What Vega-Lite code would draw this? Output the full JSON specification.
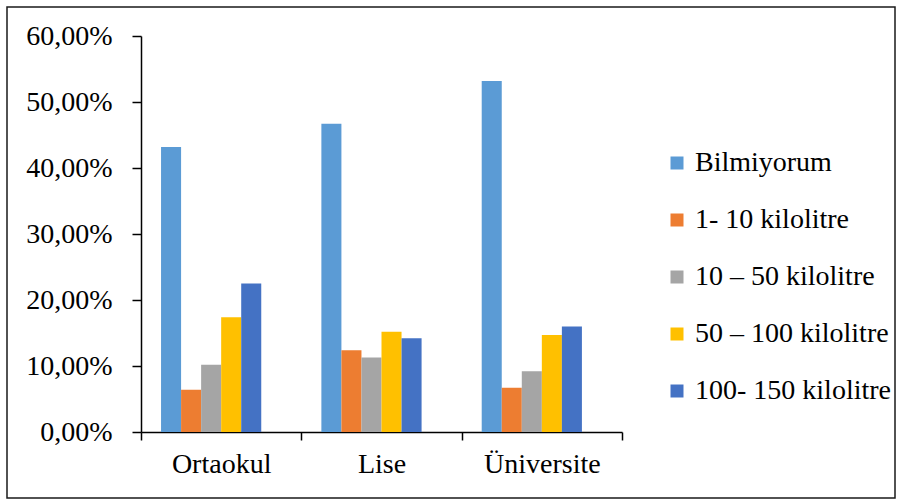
{
  "$schema": "https://vega.github.io/schema/vega-lite/v6.json",
  "width": 888,
  "height": 491,
  "autosize": {"type": "none"},
  "padding": {"left": 7, "top": 7, "right": 3, "bottom": 3},
  "background": "white",
  "config": {
    "view": {"stroke": "#1a1a1a", "strokeWidth": 1.5, "fill": "white"},
    "legend": {"labelFont": "Liberation Serif", "labelFontWeight": "normal"}
  },
  "data": {
    "values": [
      {"level": "Ortaokul", "series": "Bilmiyorum", "value": 0.432},
      {"level": "Ortaokul", "series": "1- 10 kilolitre", "value": 0.064},
      {"level": "Ortaokul", "series": "10 – 50 kilolitre", "value": 0.102},
      {"level": "Ortaokul", "series": "50 – 100 kilolitre", "value": 0.174},
      {"level": "Ortaokul", "series": "100- 150 kilolitre", "value": 0.225},
      {"level": "Lise", "series": "Bilmiyorum", "value": 0.467},
      {"level": "Lise", "series": "1- 10 kilolitre", "value": 0.124},
      {"level": "Lise", "series": "10 – 50 kilolitre", "value": 0.113},
      {"level": "Lise", "series": "50 – 100 kilolitre", "value": 0.152},
      {"level": "Lise", "series": "100- 150 kilolitre", "value": 0.142},
      {"level": "Üniversite", "series": "Bilmiyorum", "value": 0.532},
      {"level": "Üniversite", "series": "1- 10 kilolitre", "value": 0.067},
      {"level": "Üniversite", "series": "10 – 50 kilolitre", "value": 0.092},
      {"level": "Üniversite", "series": "50 – 100 kilolitre", "value": 0.147},
      {"level": "Üniversite", "series": "100- 150 kilolitre", "value": 0.160}
    ]
  },
  "mark": {"type": "bar"},
  "encoding": {
    "x": {
      "field": "level",
      "type": "nominal",
      "sort": ["Ortaokul", "Lise", "Üniversite"],
      "scale": {"range": [134, 615], "paddingInner": 0, "paddingOuter": 0},
      "axis": {
        "title": null,
        "offset": -66,
        "labelAngle": 0,
        "tickBand": "extent",
        "tickSize": 8,
        "tickColor": "#000",
        "tickWidth": 1.5,
        "domainColor": "#000",
        "domainWidth": 1.5,
        "labelFont": "Liberation Serif",
        "labelFontSize": 28,
        "labelColor": "#000",
        "labelPadding": 10
      }
    },
    "xOffset": {
      "field": "series",
      "type": "nominal",
      "scale": {
        "domain": ["Bilmiyorum", "1- 10 kilolitre", "10 – 50 kilolitre", "50 – 100 kilolitre", "100- 150 kilolitre", " "],
        "paddingInner": 0,
        "paddingOuter": 1
      }
    },
    "y": {
      "field": "value",
      "type": "quantitative",
      "scale": {"domain": [0, 0.6], "range": [425, 29], "nice": false},
      "axis": {
        "title": null,
        "offset": -134,
        "values": [0, 0.1, 0.2, 0.3, 0.4, 0.5, 0.6],
        "labelExpr": "replace(format(datum.value, '.2%'), '.', ',')",
        "grid": false,
        "tickSize": 9,
        "tickColor": "#000",
        "tickWidth": 1.5,
        "domainColor": "#000",
        "domainWidth": 1.5,
        "labelFont": "Liberation Serif",
        "labelFontSize": 28,
        "labelColor": "#000",
        "labelPadding": 20
      }
    },
    "color": {
      "field": "series",
      "type": "nominal",
      "scale": {
        "domain": ["Bilmiyorum", "1- 10 kilolitre", "10 – 50 kilolitre", "50 – 100 kilolitre", "100- 150 kilolitre"],
        "range": ["#5B9BD5", "#ED7D31", "#A5A5A5", "#FFC000", "#4472C4"]
      },
      "legend": {
        "title": null,
        "orient": "none",
        "legendX": 656,
        "legendY": 142,
        "padding": 0,
        "symbolType": "square",
        "symbolSize": 169,
        "symbolStrokeWidth": 0,
        "labelFont": "Liberation Serif",
        "labelFontWeight": "normal",
        "labelFontSize": 28,
        "labelColor": "#000",
        "labelOffset": 4,
        "labelLimit": 300,
        "rowPadding": 29,
        "encode": {
          "labels": {
            "update": {
              "font": {"value": "Liberation Serif"},
              "fontWeight": {"value": "normal"}
            }
          }
        }
      }
    }
  }
}
